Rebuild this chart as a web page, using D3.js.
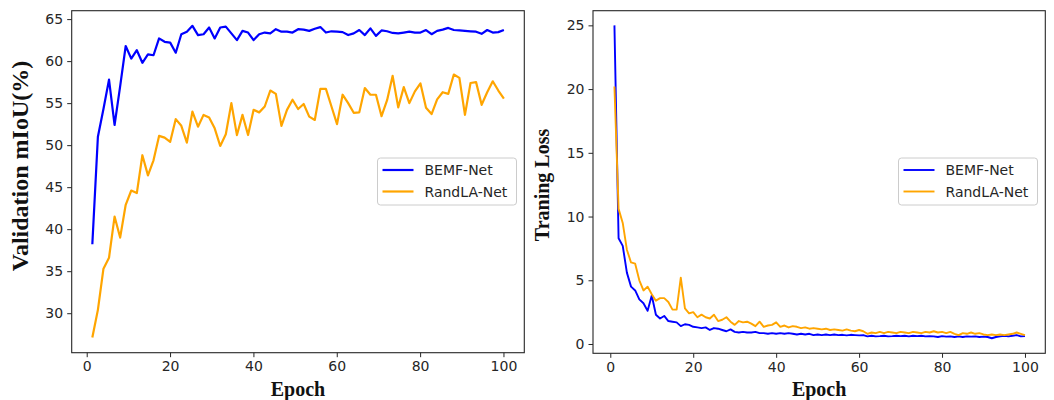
<!DOCTYPE html>
<html>
<head>
<meta charset="utf-8">
<script src="https://cdn.jsdelivr.net/npm/d3@7"></script>
<style>
  body { margin: 0; background: #fff; }
  svg text { font-family: 'DejaVu Sans', sans-serif; }
  .tick text { font-size: 14px; fill: #262626; }
  .ax-label { font-family: 'Liberation Serif', 'Times New Roman', serif !important; font-weight: bold; fill: #111; }
  .legend text { font-size: 14px; fill: #262626; }
</style>
</head>
<body>
<svg id="chart" width="1054" height="400"></svg>
<script>
// validation mIoU, evaluated 75 times between epoch ~1 and 100
const accBEMF = [
  38.2, 51.0, 54.3, 57.8, 52.4, 57.0, 61.8, 60.3, 61.3, 59.8,
  60.8, 60.7, 62.7, 62.3, 62.2, 61.0, 63.2, 63.5, 64.2, 63.1,
  63.2, 64.0, 62.7, 64.0, 64.1, 63.3, 62.5, 63.6, 63.4, 62.5,
  63.2, 63.4, 63.3, 63.8, 63.5, 63.5, 63.4, 63.8, 63.75, 63.6,
  63.85, 64.05, 63.4, 63.55, 63.5, 63.45, 63.1, 63.3, 63.7, 63.1,
  63.9, 63.0, 63.65, 63.55, 63.35, 63.3, 63.4, 63.5, 63.4, 63.4,
  63.7, 63.2, 63.6, 63.75, 63.95, 63.7, 63.65, 63.6, 63.55, 63.5,
  63.25, 63.7, 63.4, 63.45, 63.7
];
const accRandLA = [
  27.1, 30.4, 35.3, 36.6, 41.5, 39.0, 42.9, 44.6, 44.3, 48.8,
  46.4, 48.2, 51.1, 50.9, 50.4, 53.1, 52.3, 50.3, 54.0, 52.2,
  53.6, 53.3, 52.0, 49.9, 51.3, 55.0, 51.2, 53.6, 51.2, 54.2,
  53.9, 54.6, 56.5, 56.1, 52.3, 54.2, 55.4, 54.3, 54.9, 53.4,
  53.0, 56.7, 56.7, 54.6, 52.5, 56.0, 55.0, 53.85, 53.9, 56.8,
  56.0, 56.0, 53.45, 55.35, 58.25, 54.5, 56.9, 55.0, 56.4, 57.35,
  54.45, 53.7, 55.45, 56.3, 56.1, 58.4, 58.0, 53.6, 57.4, 57.5,
  54.8, 56.3, 57.6, 56.5, 55.55
];
// training loss, one value per epoch
const lossBEMF = [
  25.0, 8.3, 7.7, 5.6, 4.5, 4.2, 3.5, 3.2, 2.6, 3.8,
  2.3, 2.0, 2.2, 1.8, 1.75, 1.7, 1.4, 1.55, 1.5, 1.35,
  1.3, 1.25, 1.3, 1.1, 1.25, 1.2, 1.1, 1.0, 1.15, 0.95,
  0.9, 0.95, 0.9, 0.9, 0.95, 0.85, 0.85, 0.8, 0.85, 0.8,
  0.85, 0.8, 0.85, 0.8, 0.75, 0.8, 0.75, 0.8, 0.7, 0.75,
  0.7, 0.75, 0.7, 0.75, 0.7, 0.72, 0.68, 0.72, 0.7, 0.68,
  0.7, 0.6, 0.65, 0.6, 0.62, 0.65, 0.6, 0.62, 0.65, 0.62,
  0.65, 0.6, 0.65, 0.62, 0.65, 0.6, 0.62, 0.6, 0.55, 0.62,
  0.58, 0.6, 0.55, 0.6, 0.55, 0.6, 0.58, 0.6, 0.55, 0.58,
  0.55, 0.45, 0.55, 0.6, 0.65, 0.6, 0.65, 0.7, 0.6, 0.62
];
const lossRandLA = [
  20.2, 10.6, 9.5, 7.4, 6.4, 6.3, 5.0, 4.2, 4.5, 3.9,
  3.4, 3.6, 3.6, 3.3, 2.7, 2.7, 5.2, 2.8, 2.4, 2.5,
  2.1, 2.3, 2.1, 2.0, 2.3, 1.8, 1.9, 2.1, 1.75, 1.5,
  1.8, 1.7, 1.75, 1.6, 1.4, 1.75, 1.35, 1.45, 1.5, 1.7,
  1.35, 1.45, 1.3, 1.4, 1.35, 1.25, 1.3, 1.2, 1.25, 1.2,
  1.15, 1.2, 1.1, 1.15, 1.1, 1.05, 1.15, 1.05, 1.0, 1.1,
  1.0, 0.8, 0.9, 0.85, 0.95, 0.85, 0.95, 0.9, 0.85, 0.95,
  0.9, 0.85, 0.95, 0.9, 0.85, 0.95, 0.9, 1.0, 0.9, 0.95,
  0.85, 0.95, 0.8, 0.7, 0.85, 0.8, 0.9, 0.8, 0.85, 0.75,
  0.7, 0.75, 0.7, 0.75, 0.7, 0.75, 0.8, 0.9, 0.8, 0.7
];

const seriesNames = ['BEMF-Net', 'RandLA-Net'];
const seriesColors = ['#0000ff', '#ffa500'];
const xTicks = [0, 20, 40, 60, 80, 100];
const accTicks = [30, 35, 40, 45, 50, 55, 60, 65];
const lossTicks = [0, 5, 10, 15, 20, 25];

// evenly spaced evaluation epochs
const accEpochs = d3.range(accBEMF.length).map(i => 1.35 + i * (100.1 - 1.35) / (accBEMF.length - 1));
const lossEpochs = d3.range(1, lossBEMF.length + 1);

const svg = d3.select('#chart');

function drawPanel(opts) {
  const x = d3.scaleLinear().domain(opts.xDomain).range([opts.left, opts.right]);
  const y = d3.scaleLinear().domain(opts.yDomain).range([opts.bottom, opts.top]);
  const g = svg.append('g');

  const line = d3.line()
    .x(d => x(d[0]))
    .y(d => y(d[1]));

  opts.series.forEach((vals, k) => {
    g.append('path')
      .datum(vals.map((v, i) => [opts.epochs[i], v]))
      .attr('fill', 'none')
      .attr('stroke', seriesColors[k])
      .attr('stroke-width', opts.lineWidth)
      .attr('stroke-linejoin', 'round')
      .attr('d', line);
  });

  // frame
  g.append('rect')
    .attr('x', opts.left).attr('y', opts.top)
    .attr('width', opts.right - opts.left)
    .attr('height', opts.bottom - opts.top)
    .attr('fill', 'none').attr('stroke', '#262626').attr('stroke-width', 1.1);

  const xAxis = g.append('g')
    .attr('transform', `translate(0,${opts.bottom})`)
    .call(d3.axisBottom(x).tickValues(xTicks).tickSize(4.5).tickPadding(4));
  const yAxis = g.append('g')
    .attr('transform', `translate(${opts.left},0)`)
    .call(d3.axisLeft(y).tickValues(opts.yTicks).tickSize(4.5).tickPadding(4));
  [xAxis, yAxis].forEach(a => {
    a.select('.domain').remove();
    a.selectAll('.tick line').attr('stroke', '#262626');
    a.attr('font-family', null).attr('font-size', null);
  });

  g.append('text')
    .attr('class', 'ax-label')
    .attr('x', (opts.left + opts.right) / 2)
    .attr('y', 396)
    .attr('text-anchor', 'middle')
    .style('font-size', '20px')
    .text('Epoch');

  g.append('text')
    .attr('class', 'ax-label')
    .attr('transform', `translate(${opts.yLabelX},${opts.yLabelY}) rotate(-90)`)
    .attr('text-anchor', 'middle')
    .style('font-size', opts.yLabelSize)
    .text(opts.yLabel);

  // legend
  const lg = g.append('g').attr('class', 'legend')
    .attr('transform', `translate(${opts.legendX},158)`);
  lg.append('rect')
    .attr('width', 139).attr('height', 47).attr('rx', 3)
    .attr('fill', '#fff').attr('fill-opacity', 0.8)
    .attr('stroke', '#cccccc');
  seriesNames.forEach((name, k) => {
    const yy = 12 + k * 21.5;
    lg.append('line')
      .attr('x1', 5).attr('x2', 36).attr('y1', yy).attr('y2', yy)
      .attr('stroke', seriesColors[k]).attr('stroke-width', opts.lineWidth);
    lg.append('text')
      .attr('x', 47).attr('y', yy + 5)
      .text(name);
  });
}

drawPanel({
  left: 71.7, right: 524.3, top: 10.7, bottom: 352.7,
  xDomain: [-3.6, 105.0], yDomain: [25.3, 66.0],
  epochs: accEpochs, series: [accBEMF, accRandLA],
  yTicks: accTicks, yLabel: 'Validation mIoU(%)', yLabelX: 28, yLabelY: 166, yLabelSize: '24px',
  legendX: 377.5, lineWidth: 2.2
});

drawPanel({
  left: 593, right: 1045.3, top: 10.7, bottom: 353.3,
  xDomain: [-4.17, 104.9], yDomain: [-0.73, 26.15],
  epochs: lossEpochs, series: [lossBEMF, lossRandLA],
  yTicks: lossTicks, yLabel: 'Traning Loss', yLabelX: 549, yLabelY: 185, yLabelSize: '20px',
  legendX: 898.5, lineWidth: 1.9
});
</script>
</body>
</html>
